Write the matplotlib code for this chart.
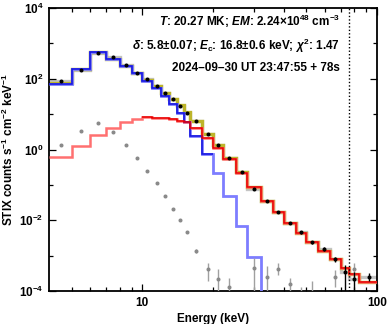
import numpy as np
import matplotlib
matplotlib.use("Agg")
import matplotlib.pyplot as plt
from matplotlib.ticker import FixedLocator, NullFormatter, FixedFormatter

plt.rcParams['font.family'] = ['Liberation Sans', 'DejaVu Sans']
plt.rcParams['font.weight'] = 'bold'
plt.rcParams['mathtext.fontset'] = 'custom'
plt.rcParams['mathtext.rm'] = 'Liberation Sans:bold'
plt.rcParams['mathtext.it'] = 'Liberation Sans:italic:bold'
plt.rcParams['mathtext.bf'] = 'Liberation Sans:bold'

# ---- data ----
edges = [4, 5, 6, 7, 8, 9, 10, 11, 12, 13, 14, 15, 16, 18, 20, 22, 25, 28, 32,
         36, 40, 45, 50, 56, 63, 70, 76, 84, 100]

counts = [84.7, 173, 524, 404, 245, 143, 96, 62, 40, 26, 17.3, 11.0, 6.4, 2.74,
          1.37, 0.594, 0.224, 0.0764, 0.035, 0.0168, 0.0082, 0.00456, 0.00238,
          0.00154, 0.000787, 0.000352, 0.000218, 0.000254]
counts_lo = [82, 168, 512, 396, 240, 140, 94, 60.5, 39, 25.3, 16.7, 10.6, 6.15, 2.62,
             1.30, 0.565, 0.212, 0.0722, 0.0328, 0.0156, 0.0076, 0.0042, 0.00215,
             0.00138, 0.00068, 1e-5, 1e-5, 0.000192]
counts_hi = [87.5, 178, 536, 412, 250, 146, 98, 63.5, 41, 26.7, 17.9, 11.4, 6.65, 2.86,
             1.44, 0.623, 0.236, 0.0806, 0.0372, 0.0180, 0.0088, 0.0050, 0.00262,
             0.00171, 0.00091, 0.000543, 0.000344, 0.000316]

background = [1.34, 3.33, 5.72, 3.06, 1.34, 0.594, 0.252, 0.113, 0.0485, 0.0212,
              0.0103, 0.00459, 0.00133, 4.06e-4, 2.14e-4, 1.32e-4, np.nan, 4.47e-4,
              2.49e-4, 4.1e-4, 1.55e-4, 5e-5, 5e-5, np.nan, 2.54e-4, np.nan, 4.1e-4,
              np.nan]
background_lo = [1.30, 3.24, 5.58, 2.98, 1.30, 0.578, 0.245, 0.110, 0.0470, 0.0204,
                 0.0098, 0.00430, 0.00115, 1.92e-4, 1e-5, 1e-5, np.nan, 1e-5,
                 1e-5, 2.83e-4, 9e-5, 1e-5, 1e-5, np.nan, 1.32e-4, np.nan, 2.3e-4,
                 np.nan]
background_hi = [1.38, 3.42, 5.86, 3.14, 1.38, 0.610, 0.259, 0.116, 0.0500, 0.0220,
                 0.0108, 0.00490, 0.00155, 6.2e-4, 4.15e-4, 2.33e-4, np.nan, 8.7e-4,
                 5.1e-4, 6.2e-4, 2.33e-4, 1.32e-4, 1.92e-4, np.nan, 3.9e-4, np.nan,
                 6.0e-4, np.nan]

thermal = [73, 189, 567, 357, 228, 141, 84, 56, 33.5, 19, 10.5, 5.9, 2.45, 0.73,
           0.21, 0.0485, 0.00687, 0.000897, 5e-5, 2e-6, 1e-7, 1e-8, 1e-9, 1e-10,
           1e-11, 1e-12, 1e-13, 1e-14]
nonthermal = [0.63, 1.23, 2.5, 4.1, 6.0, 7.1, 8.1, 8.0, 7.8, 7.1, 6.5, 5.9, 4.0,
              2.11, 1.08, 0.53, 0.217, 0.085, 0.0355, 0.0175, 0.0082, 0.00445,
              0.00238, 0.00138, 0.000797, 0.000453, 0.000302, 0.000175]
total = [74, 190, 570, 361, 234, 148, 92, 64, 40, 27, 18, 11.5, 6.4, 2.8, 1.3,
         0.58, 0.224, 0.086, 0.0355, 0.0175, 0.0082, 0.00445, 0.00238, 0.00138,
         0.000797, 0.000453, 0.000302, 0.000175]

energy_limit = 76.0
text_lines = [
    r"$\mathit{T}$: 20.27 MK; $\mathit{EM}$: 2.24$\times$10$^{48}$ cm$^{-3}$",
    r"$\delta$: 5.8$\pm$0.07; $\mathit{E}_{\mathrm{c}}$: 16.8$\pm$0.6 keV; $\chi^{2}$: 1.47",
    "2024\u201309\u201330 UT 23:47:55 + 78s",
]

# ---- figure ----
fig = plt.figure(figsize=(3.89, 3.24), dpi=100)
ax = fig.add_axes([49 / 389, 1 - 291 / 324, 328 / 389, 283 / 324])
ax.set_xscale('log')
ax.set_yscale('log')

edges_a = np.array(edges, dtype=float)
centers = 0.5 * (edges_a[:-1] + edges_a[1:])

ax.stairs(counts, edges, baseline=None, color='#c4c4c4', lw=2.4, zorder=1)
ax.stairs(total, edges, baseline=None, color='#bdb52a', lw=2.4, zorder=2)
ax.stairs(thermal, edges, baseline=None, color='#7d7dff', lw=2.0, zorder=3)
ax.stairs(nonthermal, edges, baseline=None, color='#ff7070', lw=1.8, zorder=3)

# thin lines over partial ranges
nth = 14  # bins up to 20 keV
ax.stairs(thermal[:nth], edges[:nth + 1], baseline=None, color='#1818e0', lw=1.2, zorder=4)
nr = 6    # bins from 10 keV
ax.stairs(nonthermal[nr:], edges[nr:], baseline=None, color='#e80000', lw=1.1, zorder=4)

bg = np.array(background)
bgl = np.array(background_lo)
bgh = np.array(background_hi)
ax.errorbar(centers, bg, yerr=[bg - bgl, bgh - bg], fmt='o', ms=1.9, color='#8a8a8a',
            ecolor='#a0a0a0', elinewidth=1.0, capsize=0, zorder=5)

c = np.array(counts)
cl = np.array(counts_lo)
ch = np.array(counts_hi)
ax.errorbar(centers, c, yerr=[c - cl, ch - c], fmt='o', ms=1.9, color='black',
            ecolor='black', elinewidth=1.0, capsize=0, zorder=6)

ax.axvline(energy_limit, color='black', ls=(0, (1, 1.5)), lw=1.0, zorder=7)

ax.set_xlim(4, 100)
ax.set_ylim(1e-4, 1e4)

ax.xaxis.set_major_locator(FixedLocator([10, 100]))
ax.xaxis.set_major_formatter(FixedFormatter(['10', '100']))
ax.xaxis.set_minor_locator(FixedLocator([5, 6, 7, 8, 9, 20, 30, 40, 50, 60, 70, 80, 90]))
ax.xaxis.set_minor_formatter(NullFormatter())

ax.yaxis.set_major_locator(FixedLocator([1e-4, 1e-2, 1e0, 1e2, 1e4]))
ax.yaxis.set_major_formatter(FixedFormatter([r'10$^{-4}$', r'10$^{-2}$', r'10$^{0}$',
                                             r'10$^{2}$', r'10$^{4}$']))
ax.yaxis.set_minor_locator(FixedLocator([1e-3, 1e-1, 1e1, 1e3]))
ax.yaxis.set_minor_formatter(NullFormatter())

ax.tick_params(which='both', direction='in', top=True, right=True, width=0.9)
ax.tick_params(which='major', length=5, labelsize=8.5, pad=4)
ax.tick_params(which='minor', length=3)
for sp in ax.spines.values():
    sp.set_linewidth(1.3)

ax.set_xlabel('Energy (keV)', fontsize=8.5, fontweight='bold', labelpad=3)
ax.set_ylabel(r'STIX counts s$^{-1}$ cm$^{-2}$ keV$^{-1}$', fontsize=8.5,
              fontweight='bold', labelpad=2)

ys = [0.951, 0.866, 0.788]
for t, yv in zip(text_lines, ys):
    ax.text(0.887, yv, t, transform=ax.transAxes, ha='right', va='center',
            fontsize=8.5, fontweight='bold', zorder=8)

fig.savefig('out.png', dpi=100)
